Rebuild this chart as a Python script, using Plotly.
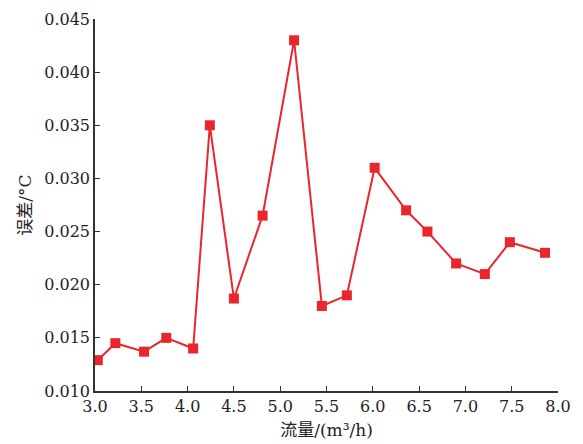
import plotly.graph_objects as go

flow = [3.03, 3.22, 3.53, 3.77, 4.06, 4.24, 4.50, 4.81, 5.15, 5.45, 5.72, 6.02, 6.36, 6.59, 6.90, 7.21, 7.48, 7.86]
error = [0.0129, 0.0145, 0.0137, 0.0150, 0.0140, 0.0350, 0.0187, 0.0265, 0.0430, 0.0180, 0.0190, 0.0310, 0.0270, 0.0250, 0.0220, 0.0210, 0.0240, 0.0230]

x_ticks = [3.0, 3.5, 4.0, 4.5, 5.0, 5.5, 6.0, 6.5, 7.0, 7.5, 8.0]
y_ticks = [0.010, 0.015, 0.020, 0.025, 0.030, 0.035, 0.040, 0.045]

red = "#E8262B"
font_family = "DejaVu Serif, Noto Sans CJK SC"

fig = go.Figure(go.Scatter(
    x=flow, y=error, mode="lines+markers",
    line=dict(color=red, width=2),
    marker=dict(symbol="square", size=10, color=red),
))

fig.update_layout(
    width=583, height=444,
    margin=dict(l=95, r=25, t=19, b=53),
    paper_bgcolor="white", plot_bgcolor="white",
    font=dict(family=font_family, size=16, color="#222"),
    showlegend=False,
)
fig.update_xaxes(
    range=[3.0, 8.0], tickvals=x_ticks, ticktext=[f"{v:.1f}" for v in x_ticks],
    ticks="inside", ticklen=5, tickcolor="#333", showline=True, linecolor="#333", linewidth=1.5,
    showgrid=False, zeroline=False, automargin=False,
    title=dict(text="流量/(m³/h)", font=dict(size=17), standoff=9),
)
fig.update_yaxes(
    range=[0.010, 0.045], tickvals=y_ticks, ticktext=[f"{v:.3f}" for v in y_ticks],
    ticks="inside", ticklen=5, tickcolor="#333", showline=True, linecolor="#333", linewidth=1.5,
    showgrid=False, zeroline=False, automargin=False,
    title=dict(text="误差/°C", font=dict(size=17), standoff=8),
)

fig.write_html("out.html")
